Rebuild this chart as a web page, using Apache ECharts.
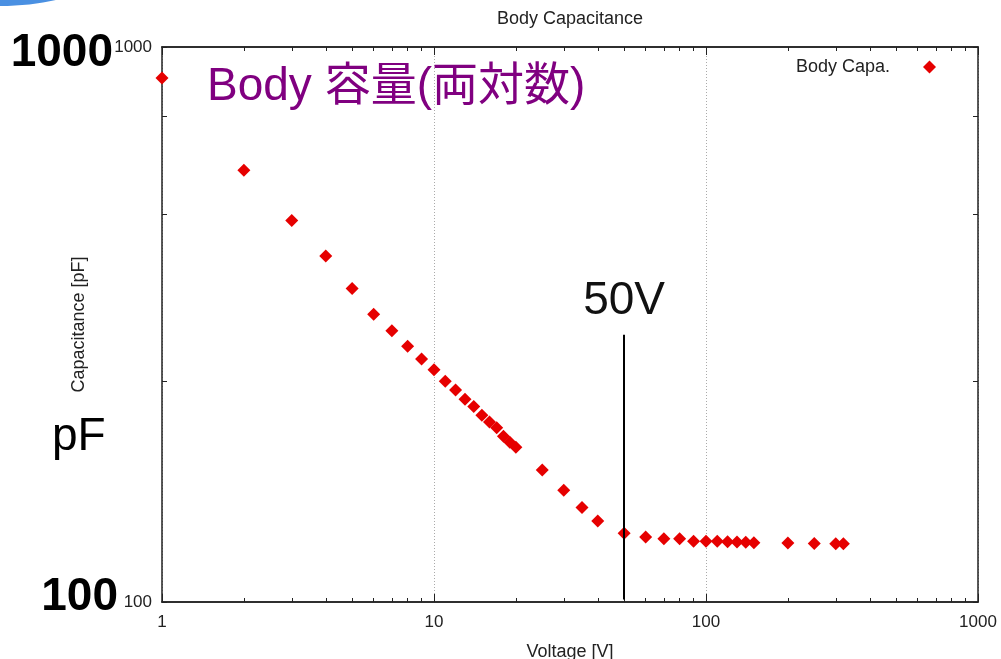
<!DOCTYPE html>
<html>
<head>
<meta charset="utf-8">
<script src="https://cdn.jsdelivr.net/npm/echarts@6/dist/echarts.min.js"></script>
<style>
html,body{margin:0;padding:0;background:#fff;}
#chart{width:1001px;height:659px;}
</style>
</head>
<body>
<div id="chart"></div>
<script>
// ---- data ----
const voltage = [1,2,3,4,5,6,7,8,9,10,11,12,13,14,15,16,17,18,19,20,25,30,35,40,50,60,70,80,90,100,110,120,130,140,150,200,250,300,320];
const capacitance = [879,600,487,420,367,330,308,289,274,262,250,241,232,225,217,211,206,199,194,190,173,159,148,140,133,131,130,130,128.6,128.6,128.6,128.4,128.3,128.1,127.9,127.7,127.5,127.3,127.3];
const xMinorTicks = [2,3,4,5,6,7,8,9,20,30,40,50,60,70,80,90,200,300,400,500,600,700,800,900];
const yTicks = [100,250,500,750,1000];
const seriesName = 'Body Capa.';
const chartTitle = 'Body Capacitance';
const xName = 'Voltage [V]';
const yName = 'Capacitance [pF]';
const markVoltage = 50;
const markRange = [101, 303];
const markText = '50V';
const noteTitle = 'Body 容量(両対数)';
const noteTop = '1000';
const noteBottom = '100';
const noteUnit = 'pF';

const FONT = "'Liberation Sans', Arial, 'Noto Sans CJK JP', sans-serif";
const chart = echarts.init(document.getElementById('chart'), null, {renderer: 'canvas'});

const points = voltage.map((v, i) => [v, capacitance[i]]);
const gridLeft = 162, gridRight = 23, gridTop = 47, gridBottom = 57;
const plainNum = v => String(Math.round(v));

function xAxisBase(pos, major, showLabel) {
  return {
    type: 'log', logBase: 10, min: 1, max: 1000, position: pos,
    axisLine: {show: true, lineStyle: {color: '#222', width: 1.5}},
    axisTick: major ? {show: true, inside: true, length: 8, lineStyle: {color: '#222', width: 1}}
                    : {show: true, inside: true, length: 4, customValues: xMinorTicks, lineStyle: {color: '#222', width: 1}},
    axisLabel: {show: showLabel, color: '#222', fontSize: 17, fontFamily: FONT, margin: 12, formatter: plainNum},
    splitLine: {show: major && pos === 'bottom', lineStyle: {color: '#aaa', width: 1, type: [1, 2]}},
    minorTick: {show: false}, minorSplitLine: {show: false}
  };
}

const option = {
  backgroundColor: '#fff',
  animation: false,
  title: {
    text: chartTitle, left: 570, top: 10, textAlign: 'center', padding: 0,
    textStyle: {fontSize: 18, fontWeight: 'normal', color: '#222', fontFamily: FONT}
  },
  legend: {
    data: [{name: seriesName, icon: 'diamond'}],
    right: 65, top: 58, padding: 0, align: 'right',
    itemWidth: 13, itemHeight: 13,
    textStyle: {fontSize: 18, color: '#222', fontFamily: FONT, padding: [0, 28, 0, 0]}
  },
  grid: {left: gridLeft, right: gridRight, top: gridTop, bottom: gridBottom, containLabel: false, outerBoundsMode: 'none'},
  xAxis: [
    Object.assign(xAxisBase('bottom', true, true), {name: xName, nameLocation: 'middle', nameGap: 41,
      nameTextStyle: {fontSize: 18, color: '#222', fontFamily: FONT}}),
    xAxisBase('top', true, false),
    xAxisBase('bottom', false, false),
    xAxisBase('top', false, false)
  ],
  yAxis: [
    {
      type: 'log', logBase: 10, min: 100, max: 1000, position: 'left',
      name: yName, nameLocation: 'middle', nameGap: 74, nameRotate: 90,
      nameTextStyle: {fontSize: 18, color: '#222', fontFamily: FONT},
      axisLine: {show: true, lineStyle: {color: '#222', width: 1.5}},
      axisTick: {show: true, inside: true, length: 5, customValues: yTicks, lineStyle: {color: '#222', width: 1}},
      axisLabel: {show: true, color: '#222', fontSize: 17, fontFamily: FONT, margin: 10, formatter: plainNum},
      splitLine: {show: false}
    },
    {
      type: 'log', logBase: 10, min: 100, max: 1000, position: 'right',
      axisLine: {show: true, lineStyle: {color: '#222', width: 1.5}},
      axisTick: {show: true, inside: true, length: 5, customValues: yTicks, lineStyle: {color: '#222', width: 1}},
      axisLabel: {show: false},
      splitLine: {show: false}
    }
  ],
  series: [{
    name: seriesName, type: 'scatter', xAxisIndex: 0, yAxisIndex: 0,
    symbol: 'diamond', symbolSize: [13, 13], clip: false,
    itemStyle: {color: '#e60000', opacity: 1},
    data: points,
    markLine: {
      silent: true, symbol: 'none', animation: false,
      lineStyle: {color: '#000', width: 2, type: 'solid'},
      label: {show: true, position: 'end', formatter: markText, fontSize: 46, color: '#111', fontFamily: FONT, distance: 10},
      data: [[{coord: [markVoltage, markRange[0]]}, {coord: [markVoltage, markRange[1]]}]]
    }
  }],
  graphic: [
    {type: 'ellipse', shape: {cx: 0, cy: -40, rx: 113, ry: 46}, style: {fill: '#4a90e2'}, z: 100},
    {type: 'text', x: 113, y: 53, z: 100,
      style: {text: noteTop, font: "bold 46px " + FONT, fill: '#000', align: 'right', verticalAlign: 'middle'}},
    {type: 'text', x: 118, y: 597, z: 100,
      style: {text: noteBottom, font: "bold 46px " + FONT, fill: '#000', align: 'right', verticalAlign: 'middle'}},
    {type: 'text', x: 52, y: 437, z: 100,
      style: {text: noteUnit, font: "46px " + FONT, fill: '#000', align: 'left', verticalAlign: 'middle'}},
    {type: 'text', x: 207, y: 87, z: 100,
      style: {text: noteTitle, font: "46px " + FONT, fill: '#800080', align: 'left', verticalAlign: 'middle'}}
  ]
};
chart.setOption(option);
</script>
</body>
</html>
